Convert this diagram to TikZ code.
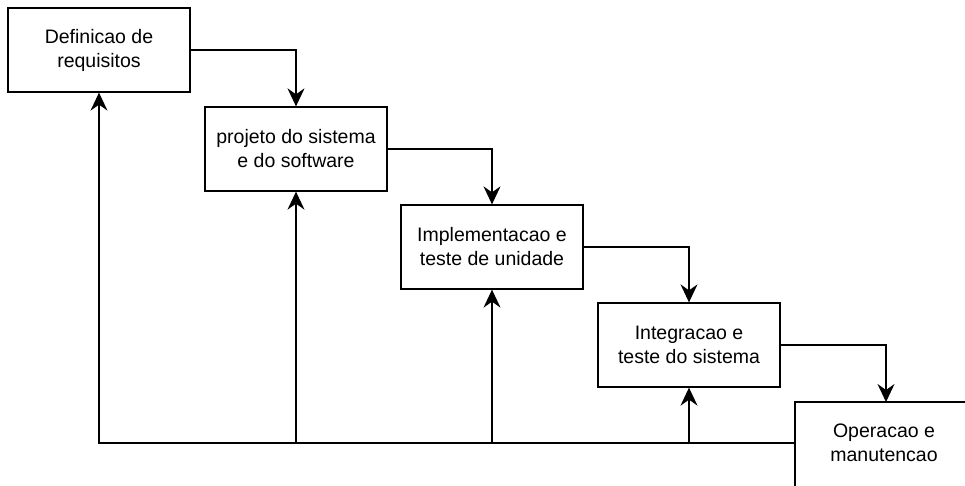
\documentclass[tikz,border=0pt]{standalone}
\usepackage{fontspec}
\setmainfont{Liberation Sans}
\usetikzlibrary{arrows.meta}
\begin{document}
\begin{tikzpicture}[x=1pt,y=-1pt,
  stagebox/.style={draw=black, line width=1.3pt, fill=white, minimum width=182pt, minimum height=84pt,
    inner sep=0pt, align=center, font=\fontsize{19.5}{24}\selectfont},
  stagetext/.style={inner sep=0pt, align=center, font=\fontsize{19.5}{24}\selectfont},
  flow/.style={draw=black, line width=1.3pt, -{Stealth[length=18pt,width=17pt,inset=6pt]}},
  plain/.style={draw=black, line width=1.3pt}]
\useasboundingbox (0,0) rectangle (965,485);
\clip (0,0) rectangle (965,485);
\node[stagebox] (b1) at (99,50) {Definicao de\\requisitos};
\node[stagebox] (b2) at (296,149) {projeto do sistema\\e do software};
\node[stagebox] (b3) at (492,247) {Implementacao e\\teste de unidade};
\node[stagebox] (b4) at (689,345) {Integracao e\\teste do sistema};
\draw[plain, fill=white] (795,402) rectangle (1000,520);
\node[stagetext] (b5) at (884,443) {Operacao e\\manutencao};
\coordinate (t5) at (886,402);
\coordinate (w5) at (795,443);
% forward
\draw[flow] (b1.east) -| (b2.north);
\draw[flow] (b2.east) -| (b3.north);
\draw[flow] (b3.east) -| (b4.north);
\draw[flow] (b4.east) -| (t5);
% feedback
\draw[flow] (w5) -| (b1.south);
\coordinate (j2) at (b2.south |- w5);
\coordinate (j3) at (b3.south |- w5);
\coordinate (j4) at (b4.south |- w5);
\draw[flow] (j2) -- (b2.south);
\draw[flow] (j3) -- (b3.south);
\draw[flow] (j4) -- (b4.south);
\end{tikzpicture}
\end{document}
